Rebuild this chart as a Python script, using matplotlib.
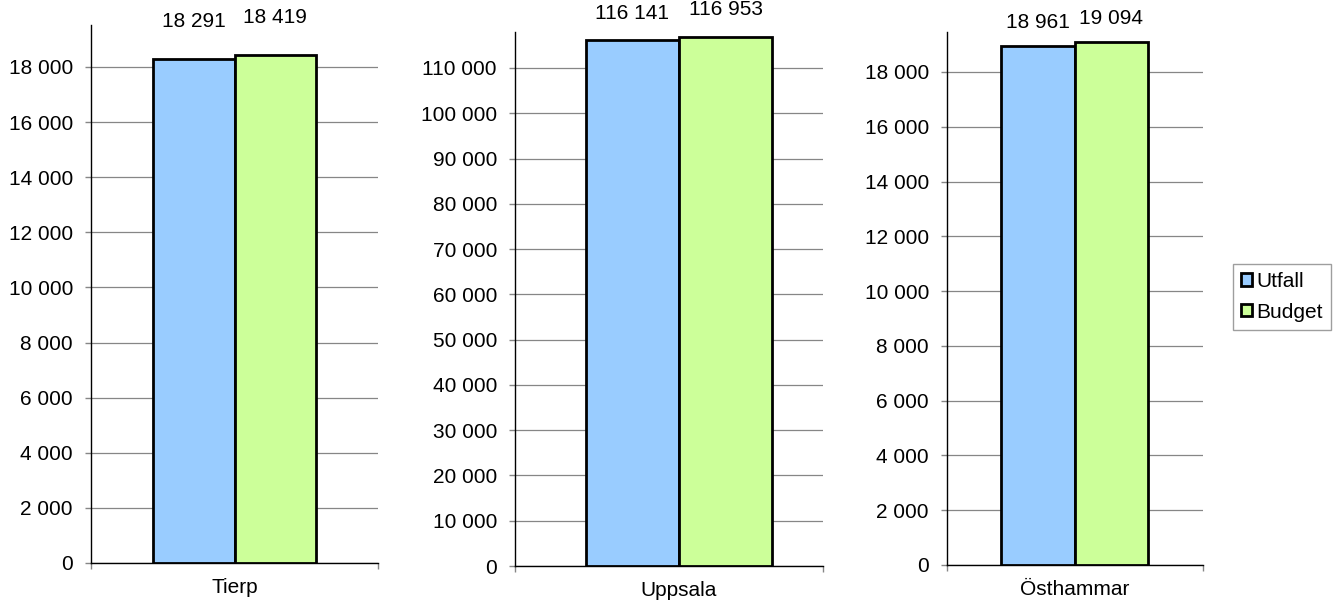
import numpy as np
import matplotlib
matplotlib.use('Agg')
import matplotlib.pyplot as plt
from matplotlib.patches import Patch
from matplotlib.ticker import MultipleLocator, FuncFormatter

plt.rcParams['font.family'] = ['Liberation Sans', 'DejaVu Sans']

kommuner = ['Tierp', 'Uppsala', 'Östhammar']
utfall = [18291, 116141, 18961]
budget = [18419, 116953, 19094]
series_names = ['Utfall', 'Budget']

colors = ['#99CCFF', '#CCFF99']
grid_col = '#868686'
fs = 15

# layout per panel (figure fractions), y limits, tick steps, x limits, label offsets
panel_rect = [
    (91 / 1343, (602 - 563) / 602, (378 - 91) / 1343, (563 - 25) / 602),
    (515 / 1343, (602 - 566) / 602, (823 - 515) / 1343, (566 - 32) / 602),
    (947 / 1343, (602 - 565) / 602, (1203 - 947) / 1343, (565 - 32) / 602),
]
ymax = [19524, 117950, 19460]
ystep = [2000, 10000, 2000]
xlims = [(-1.261, 2.261), (-1.263, 2.048), (-1.235, 2.248)]
label_off = [27, 19.5, 17]

fmt = FuncFormatter(lambda v, p: f"{int(round(v)):,}".replace(",", " "))

fig = plt.figure(figsize=(13.43, 6.02), dpi=100)

for i, name in enumerate(kommuner):
    ax = fig.add_axes(panel_rect[i])
    vals = [utfall[i], budget[i]]
    for j, v in enumerate(vals):
        ax.bar(j, v, width=1.0, color=colors[j], edgecolor='black',
               linewidth=2.0, zorder=3)
        ax.annotate(fmt(v, None), (j, v), xytext=(0, label_off[i]),
                    textcoords='offset points', ha='center', va='center',
                    fontsize=fs, annotation_clip=False)
    ax.set_ylim(0, ymax[i])
    ax.set_xlim(*xlims[i])
    ax.yaxis.set_major_locator(MultipleLocator(ystep[i]))
    ax.yaxis.set_major_formatter(fmt)
    ax.yaxis.grid(True, color=grid_col, linewidth=0.9, zorder=0)
    ax.set_axisbelow(True)
    ax.set_xticks([0.5])
    ax.set_xticklabels([name])
    ax.set_xticks(list(xlims[i]), minor=True)
    ax.tick_params(axis='x', which='major', length=0, pad=11, labelsize=fs)
    ax.tick_params(axis='x', which='minor', length=4, color=grid_col, width=1)
    ax.tick_params(axis='y', length=4, color=grid_col, width=1, pad=9,
                   labelsize=fs)
    for s in ['top', 'right']:
        ax.spines[s].set_visible(False)
    for s in ['left', 'bottom']:
        ax.spines[s].set_linewidth(1.0)
        ax.spines[s].set_color('black')
    ax.spines['left'].set_zorder(4)

handles = [Patch(facecolor=colors[k], edgecolor='black', linewidth=2.0,
                 label=series_names[k]) for k in range(2)]
leg = fig.legend(handles=handles, loc='center', bbox_to_anchor=(0.9546, 0.507),
                 bbox_transform=fig.transFigure, fontsize=fs, frameon=True,
                 fancybox=False, edgecolor=grid_col, handlelength=0.55,
                 handleheight=0.55, handletextpad=0.2, borderpad=0.4,
                 labelspacing=0.55, borderaxespad=0)
leg.get_frame().set_linewidth(1.0)

fig.savefig('out.png', dpi=100, facecolor='white')
